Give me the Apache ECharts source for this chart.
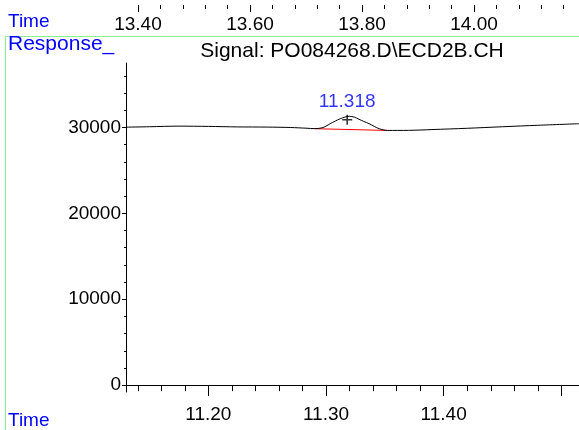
<!DOCTYPE html>
<html>
<head>
<meta charset="utf-8">
<script src="https://cdn.jsdelivr.net/npm/echarts@6/dist/echarts.min.js"></script>
<style>
html,body{margin:0;padding:0;background:#fff;}
#chart{width:579px;height:430px;}
</style>
</head>
<body>
<div id="chart"></div>
<script>
// ---- data ----
const times = [11.130, 11.150, 11.175, 11.200, 11.225, 11.250, 11.270, 11.283, 11.2907, 11.2966, 11.300, 11.3035, 11.308, 11.312, 11.316, 11.3198, 11.324, 11.328, 11.332, 11.3367, 11.341, 11.3452, 11.352, 11.370, 11.390, 11.420, 11.450, 11.480, 11.515];
const response = [30030, 30080, 30150, 30120, 30060, 30040, 29990, 29910, 29860, 29950, 30150, 30430, 30750, 31010, 31200, 31300, 31200, 30950, 30700, 30430, 30120, 29850, 29650, 29660, 29750, 29900, 30080, 30250, 30430];
const baselineTimes = [11.2907, 11.352];
const baselineValues = [29850, 29650];
const peakTimes = [11.318];
const peakValues = [30900];
const peakLabels = ['11.318'];

const xMajorTicks = [11.20, 11.30, 11.40, 11.50];
const xLabelValues = [11.20, 11.30, 11.40];
const xMinorTicks = [11.14, 11.16, 11.18, 11.22, 11.24, 11.26, 11.28, 11.32, 11.34, 11.36, 11.38, 11.42, 11.44, 11.46, 11.48];
const yMajorTicks = [0, 10000, 20000, 30000];
const yMinorTicks = [2000, 4000, 6000, 8000, 12000, 14000, 16000, 18000, 22000, 24000, 26000, 28000, 32000, 34000, 36000];
const topMajorTicks = [13.40, 13.60, 13.80, 14.00];
const topMinorTicks = [13.44, 13.48, 13.52, 13.56, 13.64, 13.68, 13.72, 13.76, 13.84, 13.88, 13.92, 13.96, 14.04, 14.08, 14.12, 14.16];

const titleText = 'Signal: PO084268.D\\ECD2B.CH';
const FONT = '"Liberation Sans", Arial, sans-serif';
const FS = 19;

const chart = echarts.init(document.getElementById('chart'), null, {renderer: 'canvas'});

const lineData = times.map((t, i) => [t, response[i]]);
const baseData = baselineTimes.map((t, i) => [t, baselineValues[i]]);
const peakData = peakTimes.map((t, i) => ({value: [t, peakValues[i]], label: {formatter: peakLabels[i]}}));

const mainX = {min: 11.13, max: 11.515};
const mainY = {min: -800, max: 37500};
const topX = {min: 13.3786, max: 14.1875};

chart.setOption({
  animation: false,
  backgroundColor: '#fff',
  grid: [
    {left: 126, right: 0, top: 63, bottom: 38},
    {left: 126, right: 0, top: -20, height: 20}
  ],
  xAxis: [
    { // main major
      type: 'value', gridIndex: 0, min: mainX.min, max: mainX.max, position: 'bottom',
      axisLine: {show: true, lineStyle: {color: '#000', width: 1}},
      axisTick: {show: true, length: 11, customValues: xMajorTicks, lineStyle: {color: '#000'}},
      axisLabel: {show: true, customValues: xLabelValues, margin: 13, color: '#000', fontSize: FS, fontFamily: FONT,
        formatter: v => Number(v).toFixed(2)},
      splitLine: {show: false}
    },
    { // main minor
      type: 'value', gridIndex: 0, min: mainX.min, max: mainX.max, position: 'bottom',
      axisLine: {show: false},
      axisTick: {show: true, length: 6, customValues: xMinorTicks, lineStyle: {color: '#000'}},
      axisLabel: {show: false},
      splitLine: {show: false}
    },
    { // top remnant major
      type: 'value', gridIndex: 1, min: topX.min, max: topX.max, position: 'bottom',
      axisLine: {show: false},
      axisTick: {show: true, length: 7, customValues: topMajorTicks, lineStyle: {color: '#000'}},
      axisLabel: {show: true, customValues: topMajorTicks, margin: 10, color: '#000', fontSize: FS, fontFamily: FONT,
        formatter: v => Number(v).toFixed(2)},
      splitLine: {show: false}
    },
    { // top remnant minor
      type: 'value', gridIndex: 1, min: topX.min, max: topX.max, position: 'bottom',
      axisLine: {show: false},
      axisTick: {show: true, length: 4, customValues: topMinorTicks, lineStyle: {color: '#000'}},
      axisLabel: {show: false},
      splitLine: {show: false}
    }
  ],
  yAxis: [
    {
      type: 'value', gridIndex: 0, min: mainY.min, max: mainY.max,
      axisLine: {show: true, lineStyle: {color: '#000', width: 1}},
      axisTick: {show: true, length: 4, customValues: yMajorTicks, lineStyle: {color: '#000'}},
      axisLabel: {show: true, customValues: yMajorTicks, margin: 5, color: '#000', fontSize: FS, fontFamily: FONT,
        formatter: v => String(Math.round(v))},
      splitLine: {show: false}
    },
    {
      type: 'value', gridIndex: 0, min: mainY.min, max: mainY.max, position: 'left',
      axisLine: {show: false},
      axisTick: {show: true, length: 2, customValues: yMinorTicks, lineStyle: {color: '#000'}},
      axisLabel: {show: false},
      splitLine: {show: false}
    },
    {
      type: 'value', gridIndex: 1, min: 0, max: 1, show: false
    }
  ],
  series: [
    {
      type: 'line', xAxisIndex: 0, yAxisIndex: 0, data: lineData, showSymbol: false, smooth: 0.3,
      lineStyle: {color: '#000', width: 1}, z: 3
    },
    {
      type: 'line', xAxisIndex: 0, yAxisIndex: 0, data: baseData, showSymbol: false,
      lineStyle: {color: '#ff0000', width: 1}, z: 2
    },
    {
      type: 'scatter', xAxisIndex: 0, yAxisIndex: 0, data: peakData,
      symbol: 'path://M4.2,0h1.6v4.2h4.2v1.6h-4.2v4.2h-1.6v-4.2h-4.2v-1.6h4.2z',
      symbolSize: 10, itemStyle: {color: '#000'},
      label: {show: true, position: 'top', distance: 3, color: '#0000ff', fontSize: 19, fontFamily: FONT},
      z: 4
    }
  ],
  graphic: [
    {type: 'line', shape: {x1: 5.5, y1: 36.5, x2: 579, y2: 36.5}, style: {stroke: '#90ee90', lineWidth: 1}, silent: true},
    {type: 'line', shape: {x1: 5.5, y1: 36.5, x2: 5.5, y2: 430}, style: {stroke: '#90ee90', lineWidth: 1}, silent: true},
    {type: 'text', left: 8, top: 12, style: {text: 'Time', fill: '#0000ff', font: '19px ' + FONT}},
    {type: 'text', left: 8, top: 34, style: {text: 'Response_', fill: '#0000ff', font: '21px ' + FONT}},
    {type: 'text', left: 8, top: 411, style: {text: 'Time', fill: '#0000ff', font: '19px ' + FONT}},
    {type: 'text', x: 352, y: 51, style: {text: titleText, fill: '#000', font: '21px ' + FONT, textAlign: 'center', textVerticalAlign: 'middle'}}
  ]
});
</script>
</body>
</html>
